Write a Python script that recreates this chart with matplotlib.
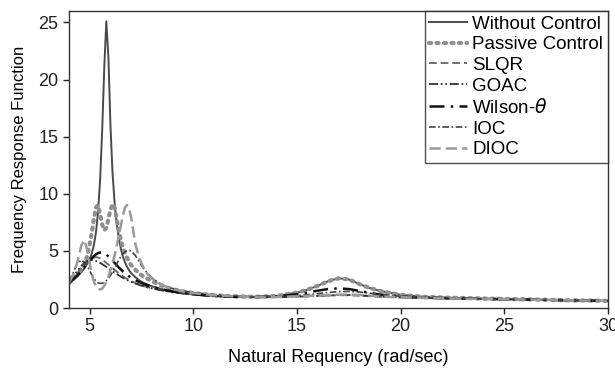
import matplotlib
matplotlib.use("Agg")
import matplotlib.pyplot as plt

plt.rcParams['font.family'] = ['Liberation Sans', 'DejaVu Sans']

freq = [4.0, 4.2, 4.4, 4.6, 4.75, 4.9,
        5.0, 5.1, 5.2, 5.3, 5.4, 5.5, 5.6, 5.7, 5.8, 5.9,
        6.0, 6.1, 6.2, 6.3, 6.4, 6.5, 6.6, 6.7, 6.8, 6.9, 7.0,
        7.2, 7.4, 7.6, 7.8, 8.0, 8.5, 9.0, 9.5, 10,
        11, 12, 13, 14, 15, 15.5, 16, 16.5, 17, 17.5, 18, 18.5, 19,
        20, 21, 22, 24, 26, 28, 30]

without_control = [2.2, 2.45, 2.75, 3.15, 3.5, 3.95,
                   4.3, 4.8, 5.5, 6.6, 8.4, 11.2, 15.5, 21.0, 25.1, 22.0,
                   16.0, 11.8, 9.2, 7.4, 6.2, 5.2, 4.5, 4.0, 3.6, 3.3, 3.05,
                   2.7, 2.4, 2.2, 2.05, 1.9, 1.65, 1.45, 1.3, 1.2,
                   1.05, 1.0, 0.97, 1.05, 1.35, 1.6, 1.95, 2.35, 2.6, 2.5, 2.1, 1.75, 1.5,
                   1.15, 1.0, 0.92, 0.83, 0.76, 0.68, 0.62]

passive_control = [2.2, 2.5, 2.9, 3.4, 3.8, 4.7,
                   5.6, 6.6, 7.8, 8.8, 9.0, 8.2, 7.3, 6.8, 7.0, 7.8,
                   8.6, 9.1, 8.8, 7.8, 6.8, 6.0, 5.3, 4.8, 4.4, 4.0, 3.75,
                   3.35, 3.0, 2.75, 2.55, 2.35, 1.95, 1.65, 1.45, 1.3,
                   1.12, 1.02, 0.98, 1.05, 1.35, 1.6, 1.95, 2.35, 2.6, 2.5, 2.1, 1.75, 1.5,
                   1.15, 1.0, 0.92, 0.83, 0.76, 0.68, 0.62]

slqr = [2.2, 2.6, 3.05, 3.5, 3.85, 4.1,
        4.25, 4.35, 4.42, 4.45, 4.42, 4.35, 4.25, 4.1, 3.95, 3.8,
        3.65, 3.5, 3.35, 3.2, 3.05, 2.9, 2.78, 2.65, 2.55, 2.45, 2.35,
        2.18, 2.05, 1.93, 1.82, 1.74, 1.55, 1.4, 1.28, 1.18,
        1.05, 0.98, 0.95, 0.96, 1.0, 1.03, 1.07, 1.1, 1.12, 1.12, 1.08, 1.03, 0.98,
        0.92, 0.87, 0.84, 0.78, 0.73, 0.67, 0.62]

goac = [2.2, 2.75, 3.25, 3.7, 3.95, 4.12,
        4.18, 4.2, 4.18, 4.12, 4.05, 3.95, 3.85, 3.72, 3.6, 3.47,
        3.35, 3.22, 3.1, 2.98, 2.86, 2.75, 2.64, 2.54, 2.45, 2.37, 2.29,
        2.14, 2.01, 1.9, 1.8, 1.72, 1.53, 1.39, 1.27, 1.17,
        1.04, 0.97, 0.94, 0.95, 0.99, 1.02, 1.06, 1.1, 1.13, 1.14, 1.11, 1.06, 1.0,
        0.93, 0.88, 0.84, 0.78, 0.73, 0.67, 0.62]

wilson = [2.2, 2.5, 2.85, 3.25, 3.6, 3.95,
          4.15, 4.35, 4.55, 4.7, 4.8, 4.86, 4.87, 4.8, 4.68, 4.52,
          4.35, 4.15, 3.95, 3.75, 3.55, 3.38, 3.2, 3.05, 2.9, 2.77, 2.65,
          2.44, 2.26, 2.1, 1.97, 1.86, 1.62, 1.45, 1.31, 1.2,
          1.05, 0.98, 0.96, 1.02, 1.2, 1.35, 1.52, 1.66, 1.72, 1.66, 1.5, 1.32, 1.18,
          1.0, 0.92, 0.87, 0.8, 0.74, 0.68, 0.62]

ioc = [2.3, 3.1, 3.9, 4.2, 4.0, 3.6,
       3.25, 2.9, 2.6, 2.35, 2.2, 2.15, 2.17, 2.25, 2.4, 2.6,
       2.85, 3.15, 3.5, 3.85, 4.2, 4.5, 4.75, 4.92, 5.02, 5.05, 5.0,
       4.6, 4.0, 3.45, 3.0, 2.65, 2.0, 1.7, 1.5, 1.36,
       1.15, 1.03, 0.97, 0.98, 1.08, 1.16, 1.26, 1.36, 1.43, 1.45, 1.4, 1.3, 1.18,
       1.02, 0.93, 0.88, 0.8, 0.74, 0.68, 0.62]

dioc = [2.2, 2.9, 4.0, 5.5, 5.95, 4.9,
        3.9, 3.0, 2.3, 1.9, 1.68, 1.62, 1.7, 1.95, 2.3, 2.75,
        3.3, 3.9, 4.6, 5.4, 6.3, 7.2, 8.1, 8.8, 9.0, 8.7, 7.9,
        5.6, 4.3, 3.5, 2.95, 2.6, 2.0, 1.65, 1.45, 1.3,
        1.12, 1.02, 0.96, 0.96, 1.02, 1.06, 1.1, 1.14, 1.17, 1.18, 1.14, 1.08, 1.02,
        0.95, 0.89, 0.85, 0.79, 0.74, 0.68, 0.62]

labels = ["Without Control", "Passive Control", "SLQR", "GOAC",
          "Wilson-$\\theta$", "IOC", "DIOC"]
x_ticks = [5, 10, 15, 20, 25, 30]
y_ticks = [0, 5, 10, 15, 20, 25]

fig = plt.figure(figsize=(6.15, 3.69), dpi=100)
ax = fig.add_axes([0.1122, 0.1653, 0.8764, 0.8049])

ax.plot(freq, without_control, color='#4a4a4a', lw=1.4, ls='-', label=labels[0])
ax.plot(freq, passive_control, color='#8f8f8f', lw=3.0, ls=(0, (0.5, 1.3)),
        dash_capstyle='round', label=labels[1])
ax.plot(freq, slqr, color='#707070', lw=1.4, ls=(0, (4, 2)), label=labels[2])
ax.plot(freq, goac, color='#333333', lw=1.3, ls=(0, (5, 1.5, 1, 1.5, 1, 1.5)), label=labels[3])
ax.plot(freq, wilson, color='#111111', lw=1.8, ls=(0, (6, 2.5, 1, 2.5)), label=labels[4])
ax.plot(freq, ioc, color='#444444', lw=1.2, ls=(0, (4, 1.5, 1, 1.5)), label=labels[5])
ax.plot(freq, dioc, color='#9a9a9a', lw=1.8, ls=(0, (4.5, 2)), label=labels[6])

ax.set_xlim(4, 30)
ax.set_ylim(0, 26)
ax.set_xticks(x_ticks)
ax.set_yticks(y_ticks)
ax.tick_params(direction='out', length=4, width=1, labelsize=13, colors='#222222')
for s in ax.spines.values():
    s.set_color('#333333')
    s.set_linewidth(1.0)

ax.set_xlabel("Natural Requency (rad/sec)", fontsize=13, labelpad=10)
ax.set_ylabel("Frequency Response Function", fontsize=12, labelpad=8)

leg = ax.legend(loc='upper right', fontsize=13.5, frameon=True, fancybox=False,
                borderaxespad=0, handlelength=2.0, handletextpad=0.3,
                labelspacing=0.185, borderpad=0.25)
leg.get_frame().set_edgecolor('#222222')
leg.get_frame().set_linewidth(1.0)

fig.savefig("out.png", dpi=100)
